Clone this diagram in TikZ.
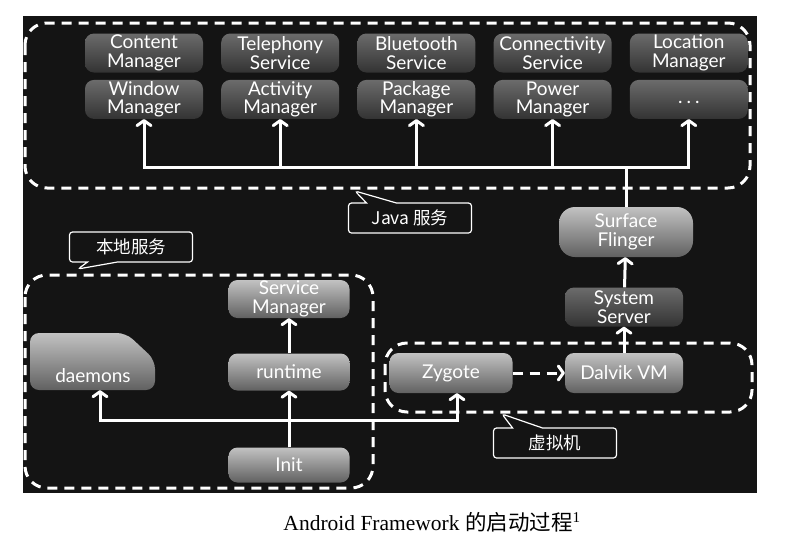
\documentclass[tikz,border=0pt]{standalone}
\usepackage{fontspec}
\setmainfont{Liberation Serif}
\newfontfamily\gillfont{Lato}
\newfontfamily\cjk{Noto Sans CJK SC}
\usetikzlibrary{shapes.callouts,positioning,arrows.meta}

\begin{document}
\begin{tikzpicture}[x=1pt,y=-1pt,%
		   boxtext/.style={text=white,align=center,inner sep=0pt,font=\gillfont\fontsize{19}{18.5}\selectfont},
		   javabox/.style={boxtext,rounded corners=9pt,minimum width=118pt,minimum height=39pt,
		     top color=black!58,bottom color=black!80},
		   lightbox/.style={javabox,top color=black!24,bottom color=black!62,minimum width=121pt,minimum height=37pt},
		   group/.style={draw=white,line width=3pt,dash pattern=on 10pt off 7pt,rounded corners=22pt},
		   flow/.style={draw=white,line width=3pt,-{Straight Barb[round,length=5pt,width=14pt]}},
		   note/.style={rectangle callout,draw=white,line width=1.2pt,rounded corners=3pt,fill=black!92,
		     text=white,minimum width=123pt,minimum height=30pt,callout pointer width=30pt,
		     font=\cjk\fontsize{17.5}{17.5}\selectfont}]

	\useasboundingbox (0,0) rectangle (787,539);
	\fill[black!92] (23,16) rectangle (757,493);

	% Java services
	\foreach \up/\low [count=\i] in {%
	   Content\\Manager/Window\\Manager,%
	   Telephony\\Service/Activity\\Manager,%
	   Bluetooth\\Service/Package\\Manager,%
	   Connectivity\\Service/Power\\Manager,%
	   Location\\Manager/\raisebox{-9pt}{.\hspace{4pt}.\hspace{4pt}.}%
	   } { \ifnum\i=1 \node[javabox](t-\i) at (144,53) {\up};
	       \else\node[javabox,right=17.8pt of t-\z](t-\i) {\up};
	       \fi
	       \node[javabox,below=7pt of t-\i](b-\i) {\low};
	       \global\let\z=\i% for placing the next one
	   }
	\draw[group] (25,23) rectangle (750,188);
	\node[note,callout absolute pointer={(355,191)}](javanote) at (410,218) {Java 服务};

	\coordinate (bus) at (0,167);
	\node[lightbox,minimum width=134pt,minimum height=50pt,rounded corners=16pt](sf) at (626,232) {Surface\\Flinger};
	\foreach \i in {1,...,5} \draw[flow] (sf.north) |- (b-\i.south |- bus) -- (b-\i.south);

	\node[javabox](ss) at (624,307) {System\\Server};

	% virtual machine
	\draw[group] (385,343) rectangle (752,412);
	\node[lightbox,minimum width=123pt,minimum height=40pt](zy) at (451,373) {Zygote};
	\node[lightbox,minimum width=118pt,minimum height=40pt](dvm) at (624,373) {Dalvik VM};
	\node[note,callout absolute pointer={(502,414)}](vmnote) at (555,443) {虚拟机};
	\draw[flow,dash pattern=on 10pt off 7pt] (zy) -- (dvm);
	\draw[flow] (dvm) -- (ss);
	\draw[flow] (ss) -- (sf);

	% native services
	\draw[group] (25,275) rectangle (373,488);
	\node[note,callout absolute pointer={(78,269)}](nativenote) at (131,247) {本地服务};
	\node[lightbox,minimum height=38pt](sm) at (289,299) {Service\\Manager};
	\node[lightbox](rt) at (289,372) {runtime};
	\node[lightbox,minimum height=35pt](init) at (289,465) {Init};
	\shade[top color=black!24,bottom color=black!62,rounded corners=9pt]
	      (30,333) -- (126,333) -- (155,360) -- (155,390) -- (30,390) -- cycle;
	\node[boxtext,text depth=8pt,anchor=base](dm) at (93,382) {daemons};

	\coordinate (lowbus) at (0,420);
	\draw[flow] (init) -- (rt);
	\draw[flow] (rt) -- (sm);
	\draw[flow] (init.north) |- ([xshift=7pt]dm.south |- lowbus) -- ([xshift=7pt]dm.south);
	\draw[flow] (init.north) |- ([xshift=6pt]zy.south |- lowbus) -- ([xshift=6pt]zy.south);

	\node[font=\fontsize{21.5}{21.5}\selectfont](caption) at (432,522) {Android Framework {\cjk 的启动过程}\textsuperscript{1}};

\end{tikzpicture}
\end{document}
